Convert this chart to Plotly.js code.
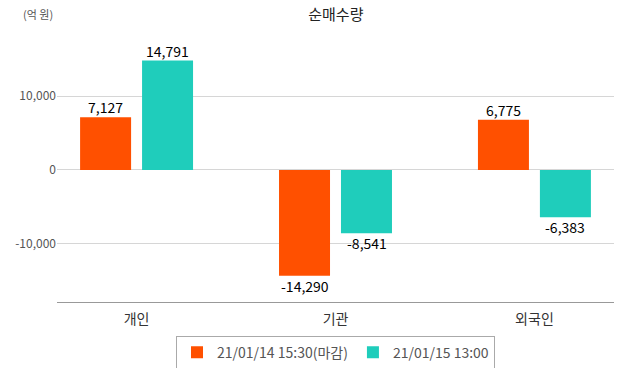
<!DOCTYPE html>
<html><head><meta charset="utf-8">
<script src="https://cdn.plot.ly/plotly-3.0.1.min.js"></script>
<style>body{margin:0;background:#fff}#c{width:622px;height:368px}</style>
</head><body><div id="c"></div>
<script>
const categories = ['개인', '기관', '외국인'];
const seriesNames = ['21/01/14 15:30(마감)', '21/01/15 13:00'];
const values1 = [7127, -14290, 6775];
const values2 = [14791, -8541, -6383];
const colors = ['#FF5000', '#1FCDBB'];
const fmt = v => v.toLocaleString('en-US');
const font = '"Noto Sans CJK KR", "Noto Sans", sans-serif';
const allValues = [values1, values2];
const traces = allValues.map((vals, i) => ({
  type: 'bar', x: categories, y: vals, name: seriesNames[i],
  marker: {color: colors[i]}, hoverinfo: 'none'
}));
const labelAnns = [];
allValues.forEach((vals, i) => vals.forEach((v, j) => labelAnns.push({
  x: categories[j], y: v, xref: 'x', yref: 'y', text: fmt(v), showarrow: false,
  xshift: i === 0 ? -31 : 31, yanchor: v >= 0 ? 'bottom' : 'top', yshift: v >= 0 ? -2 : 2,
  font: {family: font, size: 14, color: '#000'}
})));
const layout = {
  width: 622, height: 368,
  margin: {l: 57, r: 8, t: 22, b: 66, autoexpand: false},
  paper_bgcolor: '#fff', plot_bgcolor: '#fff',
  font: {family: font, color: '#444'},
  title: {text: '순매수량', x: 0.54, xanchor: 'center', y: 0.975, yanchor: 'top', font: {size: 15, color: '#222', family: font}},
  barmode: 'group', bargap: 0.377, bargroupgap: 0.177,
  xaxis: {range: [-0.4, 2.4], showgrid: false, showline: true, linecolor: '#999', linewidth: 1,
    tickfont: {size: 14, color: '#333', family: font}, ticks: 'outside', ticklen: 4, tickcolor: 'rgba(0,0,0,0)', fixedrange: true},
  yaxis: {range: [-17840, 20000], tickvals: [-10000, 0, 10000], ticktext: ['-10,000', '0', '10,000'],
    showgrid: true, gridcolor: '#d6d6d6', zeroline: true, zerolinecolor: '#d6d6d6', zerolinewidth: 1,
    tickfont: {size: 12, color: '#555', family: font}, ticks: '', ticklen: 0, automargin: false},
  legend: {orientation: 'h', x: 0.5, xanchor: 'center', y: -0.12, yanchor: 'top',
    bordercolor: '#aaa', borderwidth: 1, bgcolor: '#fff',
    font: {size: 14, color: '#555', family: font}, itemwidth: 30},
  annotations: [{text: '(억 원)', xref: 'paper', yref: 'paper', x: -0.065, y: 1.029, xanchor: 'left', yanchor: 'middle',
    showarrow: false, font: {size: 11, color: '#555', family: font}}].concat(labelAnns)
};
Plotly.newPlot('c', traces, layout, {displayModeBar: false, staticPlot: true});
</script></body></html>
